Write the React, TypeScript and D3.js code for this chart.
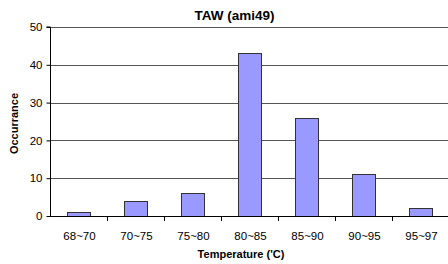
import { useEffect, useRef } from 'react';
import * as d3 from 'd3';

const categories = ['68~70', '70~75', '75~80', '80~85', '85~90', '90~95', '95~97'];
const occurrences = [1, 4, 6, 43, 26, 11, 2];
const yTicks = [0, 10, 20, 30, 40, 50];

const WIDTH = 448;
const HEIGHT = 264;
const MARGIN = { top: 27, right: -1, bottom: 48, left: 50 };
const FONT = '"Liberation Sans", Arial, sans-serif';

export default function App() {
  const svgRef = useRef<SVGSVGElement>(null);

  useEffect(() => {
    if (!svgRef.current) return;
    const svg = d3.select(svgRef.current);
    svg.selectAll('*').remove();

    const chartWidth = WIDTH - MARGIN.left - MARGIN.right;
    const chartHeight = HEIGHT - MARGIN.top - MARGIN.bottom;

    const x = d3
      .scaleBand()
      .domain(categories)
      .range([0, chartWidth])
      .paddingInner(0.6)
      .paddingOuter(0.3);
    const y = d3.scaleLinear().domain([0, 50]).range([chartHeight, 0]);

    const g = svg.append('g').attr('transform', `translate(${MARGIN.left}, ${MARGIN.top})`);

    // Gridlines
    g.selectAll('.grid')
      .data(yTicks.slice(1))
      .enter()
      .append('line')
      .attr('x1', 0)
      .attr('x2', chartWidth)
      .attr('y1', (d: number) => Math.round(y(d)) + 0.5)
      .attr('y2', (d: number) => Math.round(y(d)) + 0.5)
      .attr('stroke', '#555')
      .attr('stroke-width', 1);

    // Bars
    g.selectAll('.bar')
      .data(occurrences)
      .enter()
      .append('rect')
      .attr('x', (_d: number, i: number) => Math.round(x(categories[i]) ?? 0) + 0.5)
      .attr('y', (d: number) => Math.round(y(d)) + 0.5)
      .attr('width', Math.round(x.bandwidth()))
      .attr('height', (d: number) => Math.round(y(0)) - Math.round(y(d)))
      .attr('fill', '#9999ff')
      .attr('stroke', '#333')
      .attr('stroke-width', 1);

    // Y axis
    const yAxis = d3.axisLeft(y).tickValues(yTicks).tickSize(4).tickPadding(4);
    const yg = g.append('g').attr('transform', 'translate(0.5, 0)').call(yAxis);
    yg.select('.domain').attr('stroke', '#000').attr('d', `M-4,${y(50)}H0V${y(0)}`);
    yg.selectAll('text')
      .attr('font-size', '11.5px')
      .attr('font-family', FONT)
      .attr('fill', '#000');

    // X axis
    const step = x.step();
    g.append('line')
      .attr('x1', 0)
      .attr('x2', chartWidth)
      .attr('y1', Math.round(y(0)) + 0.5)
      .attr('y2', Math.round(y(0)) + 0.5)
      .attr('stroke', '#000');
    g.selectAll('.xtick')
      .data(d3.range(1, categories.length + 1))
      .enter()
      .append('line')
      .attr('x1', (d: number) => Math.round(d * step) + 0.5)
      .attr('x2', (d: number) => Math.round(d * step) + 0.5)
      .attr('y1', Math.round(y(0)))
      .attr('y2', Math.round(y(0)) + 5)
      .attr('stroke', '#000');
    g.selectAll('.xlabel')
      .data(categories)
      .enter()
      .append('text')
      .attr('x', (d: string) => (x(d) ?? 0) + x.bandwidth() / 2 + 1)
      .attr('y', chartHeight + 24)
      .attr('text-anchor', 'middle')
      .attr('font-size', '11.5px')
      .attr('font-family', FONT)
      .attr('fill', '#000')
      .text((d: string) => d);

    // Title
    svg
      .append('text')
      .attr('x', 234.5)
      .attr('y', 20)
      .attr('text-anchor', 'middle')
      .attr('font-size', '13.5px')
      .attr('font-weight', 'bold')
      .attr('font-family', FONT)
      .text('TAW (ami49)');

    // X axis label
    svg
      .append('text')
      .attr('x', 241)
      .attr('y', 258)
      .attr('text-anchor', 'middle')
      .attr('font-size', '11px')
      .attr('font-weight', 'bold')
      .attr('font-family', FONT)
      .text("Temperature ('C)");

    // Y axis label
    svg
      .append('text')
      .attr('transform', 'rotate(-90)')
      .attr('x', -123.5)
      .attr('y', 18)
      .attr('text-anchor', 'middle')
      .attr('font-size', '11px')
      .attr('font-weight', 'bold')
      .attr('font-family', FONT)
      .text('Occurrance');
  }, []);

  return (
    <svg
      ref={svgRef}
      width={WIDTH}
      height={HEIGHT}
      style={{ position: 'absolute', left: 0, top: 0, background: '#fff', display: 'block' }}
    />
  );
}
